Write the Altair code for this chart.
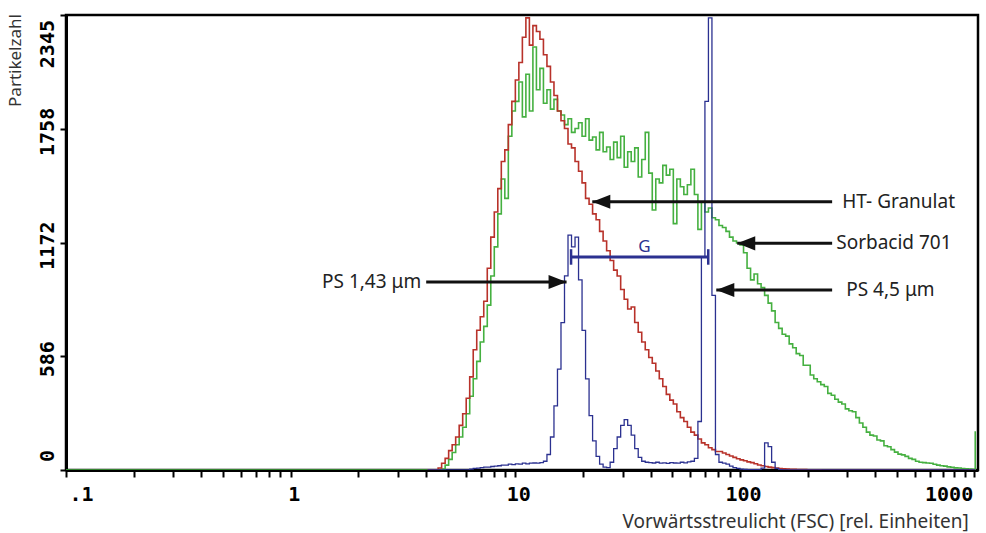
import altair as alt
import pandas as pd

# ---------------- data ----------------
# histogram channels: 64 channels per decade, channel 0 = FSC 1
first_channel = 39
channels_per_decade = 64

red_counts = [
    0, 0, 0, 10, 35, 60, 100, 130, 170, 230,
    290, 370, 480, 620, 720, 790, 870, 1040, 1200, 1330,
    1450, 1590, 1650, 1780, 1900, 2010, 2100, 2230, 2330, 2190,
    2290, 2260, 2220, 2140, 2080, 2000, 1930, 1850, 1800, 1760,
    1680, 1660, 1590, 1540, 1480, 1400, 1370, 1320, 1290, 1230,
    1180, 1130, 1080, 1030, 1000, 930, 880, 830, 840, 760,
    710, 660, 620, 580, 550, 510, 470, 430, 390, 360,
    340, 300, 270, 250, 220, 195, 180, 160, 140, 130,
    115, 105, 95, 95, 88, 80, 72, 65, 58, 52,
    48, 42, 38, 32, 26, 22, 18, 15, 12, 10,
    8, 6, 5, 4, 3, 2, 2, 2, 1, 1,
    1, 1, 0, 0, 0, 0, 0, 0, 0, 0,
    0, 0, 0, 0, 0, 0, 0, 0, 0, 0,
    0, 0, 0, 0, 0, 0, 0, 0, 0, 0,
    0, 0, 0, 0, 0, 0, 0, 0, 0, 0,
    0, 0, 0, 0, 0, 0, 0,
]

green_counts = [
    0, 0, 0, 0, 5, 25, 55, 90, 130, 170,
    220, 290, 380, 470, 560, 660, 740, 850, 1000, 1150,
    1320, 1500, 1400, 1720, 1850, 1900, 2000, 1820, 2040, 1850,
    2180, 1960, 2070, 1890, 1960, 1860, 1910, 1850, 1830, 1780,
    1810, 1740, 1760, 1790, 1720, 1810, 1700, 1716, 1650, 1740,
    1640, 1665, 1600, 1690, 1610, 1720, 1560, 1640, 1590, 1660,
    1510, 1600, 1740, 1530, 1340, 1500, 1480, 1570, 1520, 1550,
    1270, 1500, 1460, 1420, 1470, 1550, 1420, 1240, 1380, 1330,
    1350, 1300, 1290, 1260, 1250, 1230, 1200, 1180, 1170, 1160,
    1120, 1040, 980, 1010, 960, 940, 900, 860, 820, 760,
    730, 700, 690, 650, 630, 600, 590, 540, 540, 490,
    470, 455, 440, 430, 395, 385, 365, 350, 340, 315,
    305, 300, 270, 242, 220, 195, 180, 175, 155, 150,
    125, 120, 105, 92, 82, 78, 70, 60, 55, 45,
    40, 38, 36, 35, 30, 25, 22, 20, 16, 14,
    11, 10, 8, 6, 5, 4, 200,
]

blue_counts = [
    0, 0, 0, 0, 0, 0, 0, 0, 0, 0,
    0, 0, 5, 8, 10, 12, 15, 15, 18, 20,
    22, 25, 25, 30, 28, 32, 30, 35, 32, 35,
    36, 35, 38, 45, 80, 170, 330, 520, 760, 1000,
    1210, 1150, 1200, 980, 720, 470, 280, 150, 70, 30,
    15, 12, 40, 110, 170, 230, 260, 230, 180, 110,
    65, 45, 40, 38, 36, 40, 35, 37, 34, 38,
    36, 35, 40, 37, 42, 45, 60, 250, 1100, 1900,
    2330, 900, 80, 40, 35, 30, 20, 12, 8, 5,
    3, 2, 2, 2, 2, 10, 140, 120, 40, 8,
    2, 0, 0, 0, 0, 0, 0, 0, 0, 0,
    0, 0, 0, 0, 0, 0, 0, 0, 0, 0,
    0, 0, 0, 0, 0, 0, 0, 0, 0, 0,
    0, 0, 0, 0, 0, 0, 0, 0, 0, 0,
    0, 0, 0, 0, 0, 0, 0, 0, 0, 0,
    0, 0, 0, 0, 0, 0, 0,
]

y_ticks = [0, 586, 1172, 1758, 2345]
y_tick_labels = ["0", "586", "1172", "1758", "2345"]
x_major = [0.1, 1, 10, 100, 1000]
x_major_labels = [".1", "1", "10", "100", "1000"]
x_minor = [0.2, 0.3, 0.4, 0.5, 0.6, 0.7, 0.8, 0.9,
           2, 3, 4, 5, 6, 7, 8, 9,
           20, 30, 40, 50, 60, 70, 80, 90,
           200, 300, 400, 500, 600, 700, 800, 900, 1100]
x_domain = [0.1, 1146]
y_domain = [0, 2345]

arrow_labels = ["HT- Granulat", "Sorbacid 701", "PS 4,5 \u03bcm", "PS 1,43 \u03bcm"]
arrow_tip = [22.0, 97.2, 78.4, 16.9]
arrow_tail = [257, 257, 257, 4.01]
arrow_count = [1383, 1168, 928, 969]
label_fsc = [285, 268, 297, 3.81]
arrow_dir = ["left", "left", "left", "right"]

gate_ends = [17.7, 72.2]
gate_count = 1098
gate_cap = [1058, 1138]
gate_label = "G"
gate_label_pos = [37.5, 1149]

RED = "#b8322a"
GREEN = "#45b040"
BLUE = "#2b3190"

# ---------------- tables ----------------
def series_frame(counts, lead_zero):
    rows = []
    if lead_zero:
        rows.append({"fsc": x_domain[0], "count": 0})
    for i, c in enumerate(counts):
        ch = first_channel + i
        rows.append({"fsc": 10 ** (ch / channels_per_decade), "count": c})
    return pd.DataFrame(rows)

red_df = series_frame(red_counts, False)
green_df = series_frame(green_counts, True)
blue_df = series_frame(blue_counts, False)

arrows = pd.DataFrame({
    "label": arrow_labels, "tip": arrow_tip, "tail": arrow_tail,
    "count": arrow_count, "label_fsc": label_fsc, "dir": arrow_dir,
})
yt = pd.DataFrame({"v": y_ticks, "t": y_tick_labels})

all_x_ticks = sorted(x_major + x_minor)
label_expr = " : ".join(
    f"datum.value == {v} ? '{l}'" for v, l in zip(x_major, x_major_labels)
) + " : ''"

xscale = alt.Scale(type="log", domain=x_domain, nice=False)
yscale = alt.Scale(domain=y_domain, nice=False, zero=True)

x_axis = alt.Axis(
    values=all_x_ticks, labelExpr=label_expr, grid=False,
    tickSize=7, tickWidth=2, tickColor="black",
    domainColor="black", domainWidth=3,
    labelFont="DejaVu Sans Mono", labelFontWeight="bold", labelFontSize=20,
    labelColor="black", labelPadding=7, labelOverlap=False, labelFlush=False,
    labelAlign={"condition": [
        {"test": f"datum.value == {x_major[0]}", "value": "left"},
        {"test": f"datum.value == {x_major[-1]}", "value": "right"},
    ], "value": "center"},
    labelOffset={"condition": {"test": f"datum.value == {x_major[-1]}", "value": 8},
                 "value": 3},
    title="Vorw\u00e4rtsstreulicht (FSC) [rel. Einheiten]",
    titleFont="Noto Sans", titleFontSize=19, titleFontWeight="normal",
    titleColor="#333333", titleX=556, titleY=51, titleAlign="left",
    titleBaseline="middle", titleAnchor="start",
)
y_axis = alt.Axis(
    values=y_ticks, labels=False, grid=False,
    tickSize=6, tickWidth=2, tickColor="black",
    domainColor="black", domainWidth=3,
    title="Partikelzahl", titleFont="Noto Sans", titleFontSize=17,
    titleFontWeight="normal", titleColor="#333333",
    titleAngle=270, titleX=-51, titleY=45, titleAlign="center",
    titleBaseline="middle",
)

X = lambda f: alt.X(f, type="quantitative", scale=xscale, axis=x_axis)
Y = lambda f: alt.Y(f, type="quantitative", scale=yscale, axis=y_axis)

green = alt.Chart(green_df).mark_line(
    interpolate="step-after", color=GREEN, strokeWidth=1.6, clip=True
).encode(x=X("fsc"), y=Y("count"))
red = alt.Chart(red_df).mark_line(
    interpolate="step-after", color=RED, strokeWidth=1.6, clip=True
).encode(x=X("fsc"), y=Y("count"))
blue = alt.Chart(blue_df).mark_line(
    interpolate="step-after", color=BLUE, strokeWidth=1.3, clip=True
).encode(x=X("fsc"), y=Y("count"))

# y tick labels (rotated; dx runs along the text direction, i.e. upward)
def ylab(sub, align, dx):
    return alt.Chart(sub).mark_text(
        angle=270, align=align, baseline="middle", dx=dx,
        font="DejaVu Sans Mono", fontWeight="bold", fontSize=20, color="black"
    ).encode(x=alt.value(-18), y=Y("v"), text="t:N")

ylabels = (ylab(yt[yt.v == y_ticks[0]], "left", 8)
           + ylab(yt[(yt.v != y_ticks[0]) & (yt.v != y_ticks[-1])], "center", -3)
           + ylab(yt[yt.v == y_ticks[-1]], "right", -5))

# arrows
shafts = alt.Chart(arrows).mark_rule(color="#111111", strokeWidth=3).encode(
    x=X("tail"), x2="tip:Q", y=Y("count"))
head_left = alt.Chart(arrows[arrows.dir == "left"]).mark_point(
    shape="M0,0L2,-0.78L2,0.78Z", size=324, filled=True, color="#111111", opacity=1
).encode(x=X("tip"), y=Y("count"))
head_right = alt.Chart(arrows[arrows.dir == "right"]).mark_point(
    shape="M0,0L-2,-0.78L-2,0.78Z", size=324, filled=True, color="#111111", opacity=1
).encode(x=X("tip"), y=Y("count"))
lab_right = alt.Chart(arrows[arrows.dir == "left"]).mark_text(
    align="left", baseline="middle", font="Noto Sans", fontSize=19, color="#222222"
).encode(x=X("label_fsc"), y=Y("count"), text="label:N")
lab_left = alt.Chart(arrows[arrows.dir == "right"]).mark_text(
    align="right", baseline="middle", font="Noto Sans", fontSize=19, color="#222222"
).encode(x=X("label_fsc"), y=Y("count"), text="label:N")

# gate
gate_df = pd.DataFrame({"a": [gate_ends[0]], "b": [gate_ends[1]], "c": [gate_count]})
gate = alt.Chart(gate_df).mark_rule(color=BLUE, strokeWidth=3).encode(
    x=X("a"), x2="b:Q", y=Y("c"))
caps_df = pd.DataFrame({"x": gate_ends, "lo": [gate_cap[0]] * 2, "hi": [gate_cap[1]] * 2})
caps = alt.Chart(caps_df).mark_rule(color=BLUE, strokeWidth=2.5).encode(
    x=X("x"), y=Y("lo"), y2="hi:Q")
glab_df = pd.DataFrame({"x": [gate_label_pos[0]], "y": [gate_label_pos[1]], "t": [gate_label]})
glab = alt.Chart(glab_df).mark_text(
    align="center", baseline="middle", font="Noto Sans", fontSize=17, color=BLUE
).encode(x=X("x"), y=Y("y"), text="t:N")

chart = alt.layer(
    green, red, blue, gate, caps, glab, shafts, head_left, head_right,
    lab_right, lab_left, ylabels,
).properties(
    width=912, height=455,
    autosize=alt.AutoSizeParams(type="none"),
    padding={"left": 66, "top": 15, "right": 8, "bottom": 63},
    background="white",
).configure_view(stroke="black", strokeWidth=2.5)

chart.save("out.html", embed_options={"renderer": "svg", "actions": False})
